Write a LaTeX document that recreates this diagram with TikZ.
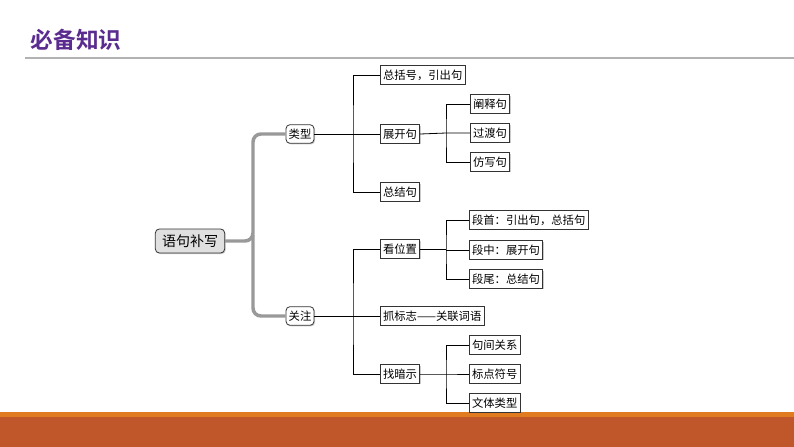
\documentclass[tikz,border=0pt]{standalone}
\usepackage{fontspec}
\setmainfont{Noto Sans CJK SC}
\newfontfamily\titlefont{Noto Sans CJK SC Bold}
\usetikzlibrary{shadows}
\definecolor{ttl}{HTML}{5B2C8F}
\definecolor{band}{HTML}{BF572A}
\definecolor{bandtop}{HTML}{E07B20}
\begin{document}
\begin{tikzpicture}[x=0.75pt,y=-0.75pt,
  bx/.style={draw=black!80,line width=0.6pt,fill=white,inner sep=2pt,minimum height=14pt,font=\fontsize{8.5}{10}\selectfont,anchor=west,drop shadow={shadow xshift=0.8pt,shadow yshift=-0.8pt,fill=black!40}},
  rbx/.style={bx,rounded corners=3pt,anchor=center},
  ln/.style={line width=0.6pt,black},
  br/.style={line width=2.6pt,black!40,rounded corners=6pt}]
\useasboundingbox (0,0) rectangle (794,447);
\fill[white] (0,0) rectangle (794,447);
\node[text=ttl,font=\titlefont\fontsize{17}{20}\selectfont,anchor=west] (title) at (26,40) {必备知识};
\draw[black!30,line width=0.8pt] (25,58) -- (794,58);
\fill[bandtop] (0,412) rectangle (794,418);
\fill[band] (0,417) rectangle (794,447);
% root & level 1
\node[rbx,fill=black!12,minimum height=18pt,inner xsep=5pt,font=\fontsize{10.5}{12}\selectfont] (root) at (190,241) {语句补写};
\node[rbx] (lx) at (300,134) {类型};
\node[rbx] (gz) at (300,316) {关注};
\draw[br] (root.east) -- (253,241) -- (253,134) -- (lx.west);
\draw[br] (253,235) -- (253,316) -- (gz.west);
% level 2 top
\node[bx] (a1) at (380,75) {总括号，引出句};
\node[bx] (a2) at (380,134) {展开句};
\node[bx] (a3) at (380,192) {总结句};
\coordinate (ja) at (353,134);
\draw[ln] (lx.east) -- (a2.west);
\draw[ln] (a1.west) -| (ja) |- (a3.west);
\node[bx] (b1) at (470,104) {阐释句};
\node[bx] (b2) at (470,133) {过渡句};
\node[bx] (b3) at (470,162) {仿写句};
\coordinate (jb) at (446,133);
\draw[ln] (a2.east) -- (jb) -- (b2.west);
\draw[ln] (b1.west) -| (jb) |- (b3.west);
% level 2 bottom
\node[bx] (c1) at (380,249) {看位置};
\node[bx] (c2) at (380,316) {抓标志——关联词语};
\node[bx] (c3) at (380,374) {找暗示};
\coordinate (jc) at (353,316);
\draw[ln] (gz.east) -- (c2.west);
\draw[ln] (c1.west) -| (jc) |- (c3.west);
\node[bx] (d1) at (469,220) {段首：引出句，总括句};
\node[bx] (d2) at (469,250) {段中：展开句};
\node[bx] (d3) at (469,279) {段尾：总结句};
\coordinate (jd) at (446,249);
\draw[ln] (c1.east) -- (jd);
\draw[ln] (d1.west) -| (jd) |- (d3.west);
\draw[ln] (446,250) -- (d2.west);
\node[bx] (e1) at (469,345) {句间关系};
\node[bx] (e2) at (469,374) {标点符号};
\node[bx] (e3) at (469,403) {文体类型};
\coordinate (je) at (446,374);
\draw[ln] (c3.east) -- (je) -- (e2.west);
\draw[ln] (e1.west) -| (je) |- (e3.west);
\end{tikzpicture}
\end{document}
